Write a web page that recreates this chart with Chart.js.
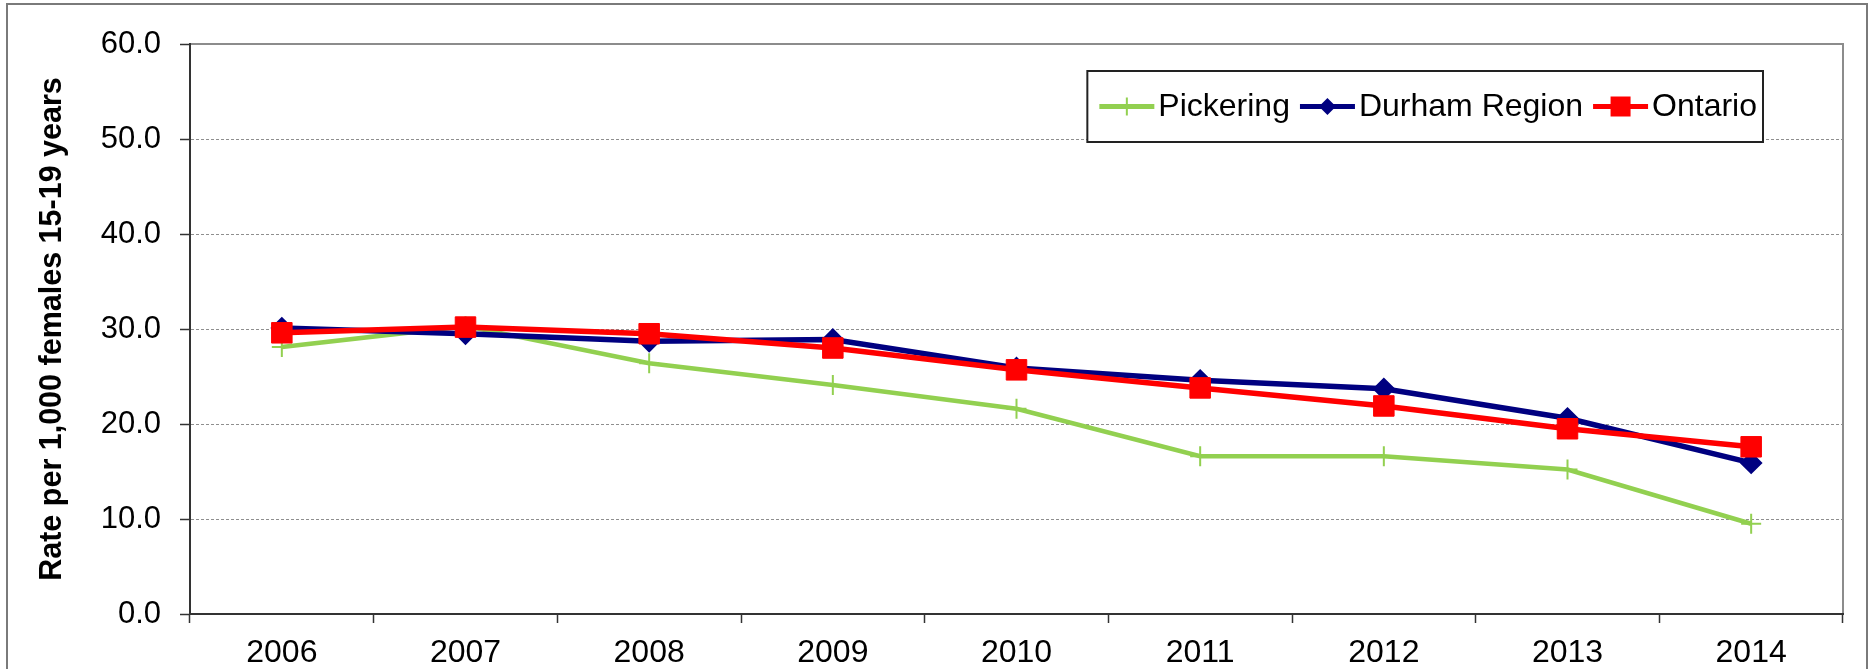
<!DOCTYPE html>
<html>
<head>
<meta charset="utf-8">
<script src="https://cdn.jsdelivr.net/npm/chart.js@4.4.1/dist/chart.umd.min.js"></script>
<style>
  html, body { margin: 0; padding: 0; background: #fff; }
</style>
</head>
<body>
<canvas id="chart" width="1871" height="669"></canvas>
<script>
const years = ["2006", "2007", "2008", "2009", "2010", "2011", "2012", "2013", "2014"]
const pickering = [28.1, 30.3, 26.4, 24.1, 21.6, 16.6, 16.6, 15.2, 9.5]
const durham = [30.1, 29.5, 28.7, 28.9, 25.9, 24.6, 23.7, 20.6, 15.9]
const ontario = [29.6, 30.2, 29.5, 28.0, 25.7, 23.8, 21.9, 19.5, 17.6]
const yMin = 0
const yMax = 60
const yStep = 10

const FONT = "'Liberation Sans', Arial, sans-serif"
Chart.defaults.font.family = FONT
Chart.defaults.color = "#000"

// outer frame + plot area top/right border
const frame = {
  id: "frame",
  beforeDraw(chart) {
    const { ctx, chartArea: a } = chart
    ctx.save()
    ctx.fillStyle = "#fff"
    ctx.fillRect(0, 0, chart.width, chart.height)
    ctx.strokeStyle = "#7a7a7a"
    ctx.lineWidth = 2
    ctx.strokeRect(7, 4, chart.width - 11, chart.height + 10)
    ctx.strokeStyle = "#8c8c8c"
    ctx.beginPath()
    ctx.moveTo(a.left, a.top)
    ctx.lineTo(a.right, a.top)
    ctx.lineTo(a.right, a.bottom)
    ctx.stroke()
    ctx.restore()
  }
}

function drawMarker(ctx, style, x, y, r, color) {
  ctx.fillStyle = color
  ctx.strokeStyle = color
  ctx.beginPath()
  if (style === "cross") {
    ctx.lineWidth = 2
    ctx.moveTo(x, y - r)
    ctx.lineTo(x, y + r)
    ctx.stroke()
    return
  }
  if (style === "rectRot") {
    ctx.moveTo(x - r, y)
    ctx.lineTo(x, y - r)
    ctx.lineTo(x + r, y)
    ctx.lineTo(x, y + r)
  } else {
    ctx.rect(x - r, y - r, 2 * r, 2 * r)
  }
  ctx.closePath()
  ctx.fill()
}

// boxed legend inside the plot, line + marker samples like the original
const legendBox = {
  id: "legendBox",
  afterDraw(chart) {
    const { ctx, chartArea: a } = chart
    const sets = chart.data.datasets
    const lineLen = 55, gap = 4, itemGap = 10, padL = 12, padR = 6
    ctx.save()
    ctx.font = "32px " + FONT
    let w = padL + padR
    sets.forEach((ds, i) => {
      w += lineLen + gap + ctx.measureText(ds.label).width + (i ? itemGap : 0)
    })
    const h = 71
    const right = a.right - 80
    const left = right - w
    const top = a.top + 27
    ctx.fillStyle = "#fff"
    ctx.fillRect(left, top, w, h)
    ctx.strokeStyle = "#222"
    ctx.lineWidth = 2
    ctx.strokeRect(left, top, w, h)
    const cy = top + h / 2
    let x = left + padL
    sets.forEach((ds, i) => {
      if (i) x += itemGap
      ctx.strokeStyle = ds.borderColor
      ctx.lineWidth = 5
      ctx.beginPath()
      ctx.moveTo(x, cy)
      ctx.lineTo(x + lineLen, cy)
      ctx.stroke()
      drawMarker(ctx, ds.pointStyle, x + lineLen / 2, cy, ds.legendRadius, ds.borderColor)
      x += lineLen + gap
      ctx.fillStyle = "#000"
      ctx.textBaseline = "middle"
      ctx.textAlign = "left"
      ctx.fillText(ds.label, x, cy + 1)
      x += ctx.measureText(ds.label).width
    })
    ctx.restore()
  }
}

new Chart(document.getElementById("chart"), {
  type: "line",
  data: {
    labels: years,
    datasets: [{
      label: "Pickering",
      data: pickering,
      borderColor: "#92D050",
      backgroundColor: "#92D050",
      borderWidth: 4.5,
      pointStyle: "cross",
      pointRadius: 10,
      pointBorderWidth: 2,
      legendRadius: 9,
      order: 3
    }, {
      label: "Durham Region",
      data: durham,
      borderColor: "#000080",
      backgroundColor: "#000080",
      borderWidth: 5.5,
      pointStyle: "rectRot",
      pointRadius: 10,
      pointBorderWidth: 2,
      legendRadius: 8.5,
      order: 2
    }, {
      label: "Ontario",
      data: ontario,
      borderColor: "#FF0000",
      backgroundColor: "#FF0000",
      borderWidth: 5.5,
      pointStyle: "rect",
      pointRadius: 14.5,
      pointBorderWidth: 1,
      legendRadius: 10,
      order: 1
    }]
  },
  options: {
    responsive: false,
    devicePixelRatio: 1,
    animation: false,
    events: [],
    layout: { padding: { left: 8, top: 44, right: 28, bottom: 0 } },
    plugins: {
      legend: { display: false },
      tooltip: { enabled: false }
    },
    scales: {
      x: {
        offset: true,
        grid: {
          offset: true,
          drawOnChartArea: false,
          tickLength: 9,
          tickColor: "#333",
          tickWidth: 1.5
        },
        border: { color: "#333", width: 2 },
        ticks: {
          padding: 11,
          maxRotation: 0,
          autoSkip: false,
          font: { size: 32 }
        },
        afterFit: scale => {
          scale.height = 55
          scale.paddingLeft = 0
          scale.paddingRight = 0
        }
      },
      y: {
        min: yMin,
        max: yMax,
        grid: {
          color: ctx => (ctx.tick && (ctx.tick.value === yMin || ctx.tick.value === yMax)) ? "rgba(0,0,0,0)" : "#8f8f8f",
          lineWidth: 1,
          tickLength: 10,
          tickColor: "#333",
          tickWidth: 1.5,
          tickBorderDash: []
        },
        border: { color: "#333", width: 2, dash: [3, 2] },
        ticks: {
          stepSize: yStep,
          padding: 19,
          font: { size: 31 },
          callback: v => v.toFixed(1)
        },
        title: {
          display: true,
          text: "Rate per 1,000 females 15-19 years",
          font: { size: 30.5, weight: "bold" },
          padding: { top: 26, bottom: 0 }
        },
        afterFit: scale => {
          scale.width = 182
          scale.paddingTop = 0
          scale.paddingBottom = 0
        }
      }
    }
  },
  plugins: [frame, legendBox]
})
</script>
</body>
</html>
